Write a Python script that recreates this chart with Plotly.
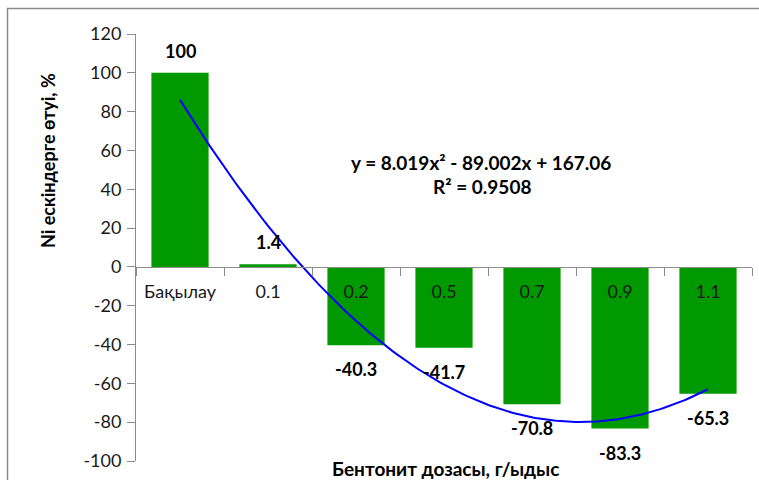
import numpy as np
import plotly.graph_objects as go

# Bentonite dose categories and Ni transfer values (%)
categories = ["Бақылау", "0.1", "0.2", "0.5", "0.7", "0.9", "1.1"]
values = [100, 1.4, -40.3, -41.7, -70.8, -83.3, -65.3]

# Quadratic trendline coefficients (x = category index 1..7)
trend_a, trend_b, trend_c = 8.019, -89.002, 167.06
r_squared = 0.9508

y_ticks = [120, 100, 80, 60, 40, 20, 0, -20, -40, -60, -80, -100]
y_tick_labels = [str(t) for t in y_ticks]

FONT = "Lato"
BAR_COLOR = "#009900"
AXIS_COLOR = "#8c8c8c"

W, H = 759, 480
ML, MR, MT, MB = 136, 7, 34, 19
PW, PH = W - ML - MR, H - MT - MB


def px_x(px):
    return (px - ML) / PW


def px_y(py):
    return (H - MB - py) / PH


y_min, y_max = min(y_ticks), max(y_ticks)

fig = go.Figure()

fig.add_trace(go.Bar(
    x=categories, y=values,
    marker=dict(color=BAR_COLOR, line=dict(width=0)),
    width=0.65,
    showlegend=False,
    hoverinfo="x+y",
))

# Trendline over category positions (index 1..7 on a hidden numeric axis)
tx = np.linspace(1, len(categories), 200)
ty = trend_a * tx ** 2 + trend_b * tx + trend_c
fig.add_trace(go.Scatter(
    x=tx, y=ty, xaxis="x2", mode="lines",
    line=dict(color="#0000ff", width=2),
    showlegend=False, hoverinfo="skip",
))

bold = dict(family=FONT, color="#000000", weight="bold")

# Value labels beside each bar end (category index positions)
for i, v in enumerate(values):
    fig.add_annotation(
        x=i, y=v, xref="x", yref="y",
        text=f"{v:g}", showarrow=False,
        xanchor="center", yanchor="middle",
        yshift=22 if v >= 0 else -24,
        font=dict(bold, size=18),
    )

# Trendline equation
eq = f"y = {trend_a:g}x² - {abs(trend_b):.3f}x + {trend_c:g}"
fig.add_annotation(
    x=px_x(481), y=px_y(162), xref="paper", yref="paper",
    xanchor="center", yanchor="middle",
    text=eq, showarrow=False, font=dict(bold, size=19),
)
fig.add_annotation(
    x=px_x(482), y=px_y(187), xref="paper", yref="paper",
    xanchor="center", yanchor="middle",
    text=f"R² = {r_squared}", showarrow=False, font=dict(bold, size=19),
)

# Axis titles
fig.add_annotation(
    x=px_x(48), y=px_y(161), xref="paper", yref="paper",
    xanchor="center", yanchor="middle",
    text="Ni ескіндерге өтуі, %", textangle=-90, showarrow=False,
    font=dict(bold, size=18),
)
fig.add_annotation(
    x=px_x(445), y=px_y(468), xref="paper", yref="paper",
    xanchor="center", yanchor="middle",
    text="Бентонит дозасы, г/ыдыс", showarrow=False,
    font=dict(bold, size=19),
)

# Chart frame
fig.add_shape(
    type="rect", xref="paper", yref="paper",
    x0=px_x(7.5), x1=px_x(800), y0=px_y(520), y1=px_y(8.5),
    line=dict(color="#8a8a8a", width=1.5), layer="below",
)

fig.update_layout(
    width=W, height=H,
    margin=dict(l=ML, r=MR, t=MT, b=MB, pad=0),
    plot_bgcolor="#ffffff", paper_bgcolor="#ffffff",
    font=dict(family=FONT, size=18, color="#1a1a1a"),
    xaxis=dict(
        type="category",
        anchor="free",
        position=(0 - y_min) / (y_max - y_min),
        showline=True, linecolor=AXIS_COLOR, linewidth=1,
        ticks="outside", tickson="boundaries", ticklen=8,
        tickcolor=AXIS_COLOR, ticklabelstandoff=8,
        showgrid=False, zeroline=False,
        range=[-0.5, len(categories) - 0.5],
        tickfont=dict(family=FONT, size=18, color="#1a1a1a"),
    ),
    xaxis2=dict(
        overlaying="x", range=[0.5, len(categories) + 0.5],
        visible=False, showgrid=False, zeroline=False,
    ),
    yaxis=dict(
        range=[y_min, y_max], tickvals=y_ticks, ticktext=y_tick_labels,
        showline=True, linecolor=AXIS_COLOR, linewidth=1,
        ticks="outside", ticklen=8, tickcolor=AXIS_COLOR,
        ticklabelstandoff=2,
        showgrid=False, zeroline=False,
        tickfont=dict(family=FONT, size=18, color="#1a1a1a"),
    ),
)

fig.write_html("out.html")
